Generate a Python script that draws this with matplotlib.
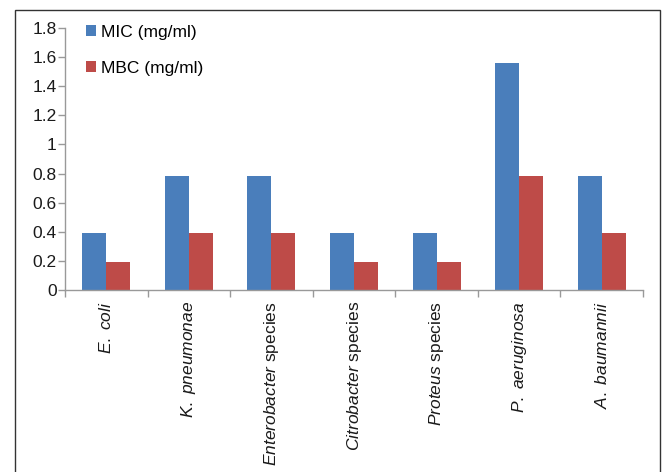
import matplotlib
matplotlib.use("Agg")
import matplotlib.pyplot as plt
from matplotlib.patches import Rectangle
import numpy as np

categories = [r"$\mathit{E.\ coli}$", r"$\mathit{K.\ pneumonae}$",
              r"$\mathit{Enterobacter}$ species", r"$\mathit{Citrobacter}$ species",
              r"$\mathit{Proteus}$ species", r"$\mathit{P.\ aeruginosa}$",
              r"$\mathit{A.\ baumannii}$"]
mic = [0.39, 0.78, 0.78, 0.39, 0.39, 1.56, 0.78]
mbc = [0.195, 0.39, 0.39, 0.195, 0.195, 0.78, 0.39]
yticks = [0, 0.2, 0.4, 0.6, 0.8, 1.0, 1.2, 1.4, 1.6, 1.8]
ytick_labels = ["0", "0.2", "0.4", "0.6", "0.8", "1", "1.2", "1.4", "1.6", "1.8"]
series_names = ["MIC (mg/ml)", "MBC (mg/ml)"]

plt.rcParams['font.family'] = ['Liberation Sans', 'DejaVu Sans']
plt.rcParams['mathtext.fontset'] = 'custom'
plt.rcParams['mathtext.rm'] = 'Liberation Sans'
plt.rcParams['mathtext.it'] = 'Liberation Sans:italic'
plt.rcParams['mathtext.bf'] = 'Liberation Sans:bold'

FS = 12.5
W, H = 662, 472
fig = plt.figure(figsize=(W/100, H/100), dpi=100)
fig.patch.set_facecolor('white')

# outer frame
fig.patches.append(Rectangle((15/W, -0.05), (660-15)/W, 1.05 - 10/H,
                             transform=fig.transFigure, fill=False,
                             edgecolor='#333333', linewidth=1.0))

ax = fig.add_axes([65/W, 1-290/H, (643-65)/W, (290-28)/H])
x = np.arange(len(categories))
w = 0.29
ax.bar(x - w/2, mic, width=w, color='#4a7ebb', label=series_names[0])
ax.bar(x + w/2, mbc, width=w, color='#be4b48', label=series_names[1])

ax.set_xlim(-0.5, len(categories) - 0.5)
ax.set_ylim(0, 1.8)
ax.set_yticks(yticks)
ax.set_yticklabels(ytick_labels, fontsize=FS, color='#1a1a1a')
ax.set_xticks(x)
ax.set_xticklabels(categories, rotation=90, fontsize=FS, color='#1a1a1a')
ax.tick_params(axis='x', which='major', length=0, pad=8)
ax.set_xticks(np.arange(-0.5, len(categories)), minor=True)
ax.tick_params(axis='x', which='minor', length=5, color='#999999', width=1)
ax.tick_params(axis='y', length=5, color='#999999', width=1, pad=1)

for s in ['top', 'right']:
    ax.spines[s].set_visible(False)
for s in ['left', 'bottom']:
    ax.spines[s].set_color('#999999')
    ax.spines[s].set_linewidth(1)

leg = ax.legend(loc='upper left', bbox_to_anchor=(86/W, 1-25/H),
                bbox_transform=fig.transFigure, frameon=False, fontsize=FS,
                handlelength=0.6, handleheight=0.6, handletextpad=0.25,
                labelspacing=1.2, borderpad=0, borderaxespad=0)

fig.savefig("out.png", dpi=100)
